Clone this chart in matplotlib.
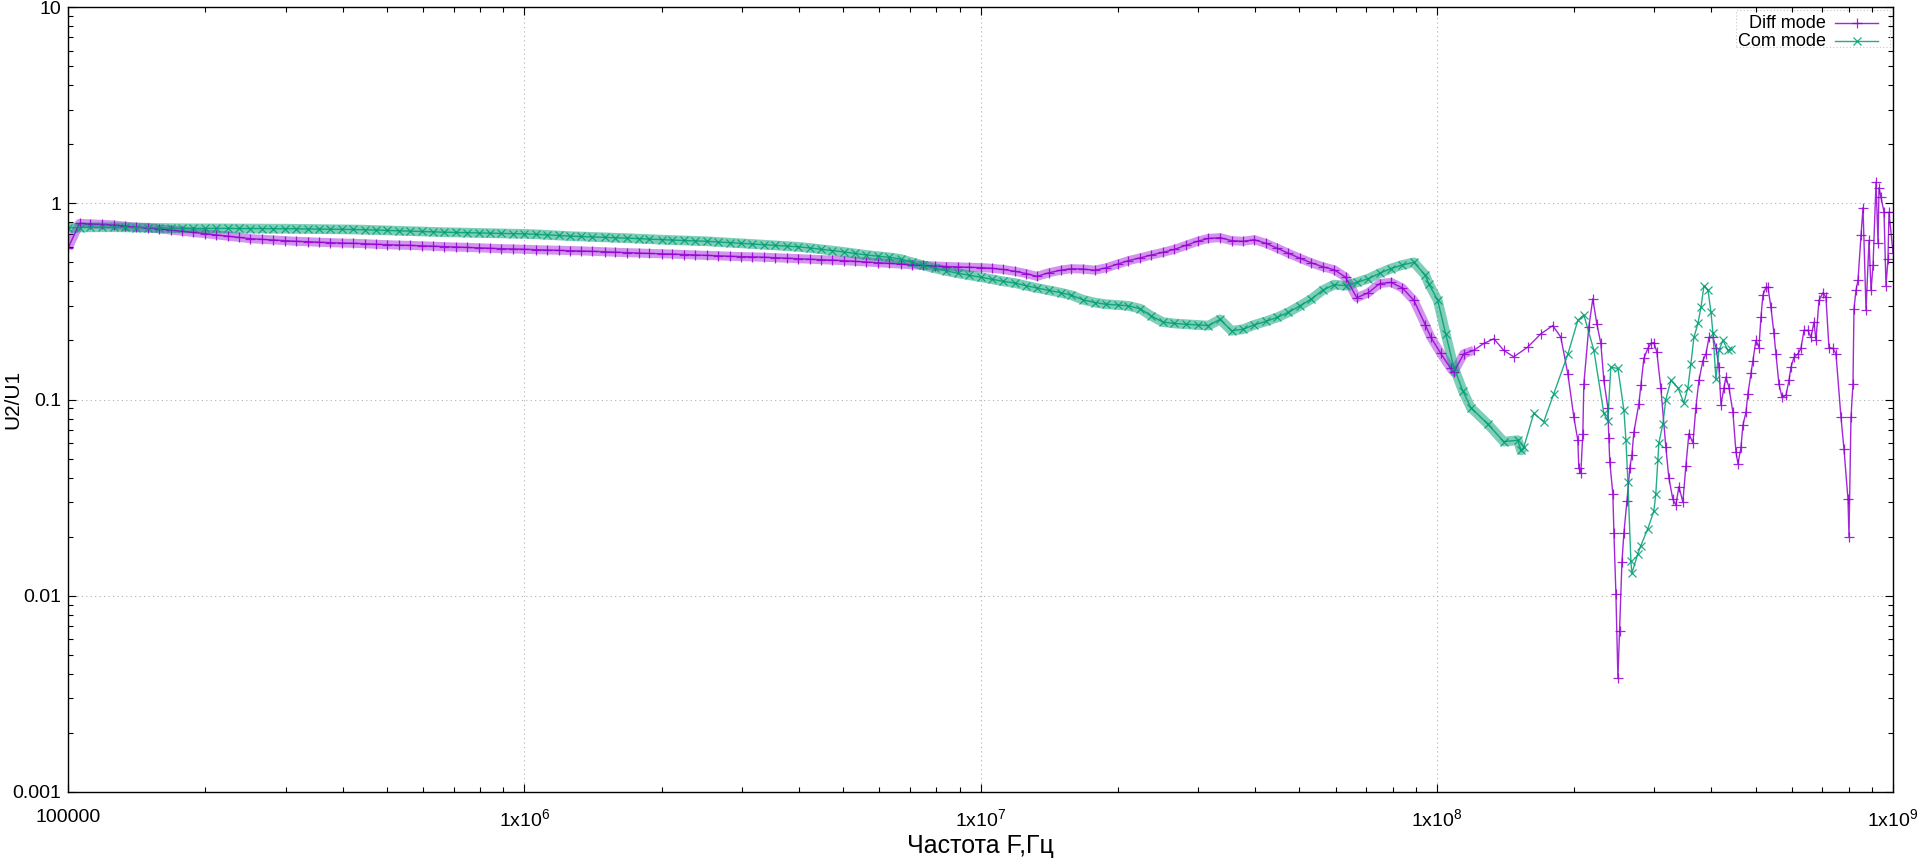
import matplotlib
matplotlib.use("Agg")
import matplotlib.pyplot as plt
from matplotlib.lines import Line2D
from matplotlib.patches import Rectangle
from matplotlib.ticker import LogLocator, FixedLocator, FixedFormatter, NullFormatter

plt.rcParams["font.family"] = ["Liberation Sans", "DejaVu Sans"]

# sweep points below 100 MHz (MHz), shared by both traces
freq_lo = [
    0.100, 0.106, 0.112, 0.119, 0.126, 0.133, 0.141, 0.150, 0.158, 0.168,
    0.178, 0.188, 0.200, 0.211, 0.224, 0.237, 0.251, 0.266, 0.282, 0.299,
    0.316, 0.335, 0.355, 0.376, 0.398, 0.422, 0.447, 0.473, 0.501, 0.531,
    0.562, 0.596, 0.631, 0.668, 0.708, 0.750, 0.794, 0.841, 0.891, 0.944,
    1.00, 1.06, 1.12, 1.19, 1.26, 1.33, 1.41, 1.50, 1.58, 1.68,
    1.78, 1.88, 2.00, 2.11, 2.24, 2.37, 2.51, 2.66, 2.82, 2.99,
    3.16, 3.35, 3.55, 3.76, 3.98, 4.22, 4.47, 4.73, 5.01, 5.31,
    5.62, 5.96, 6.31, 6.68, 7.08, 7.50, 7.94, 8.41, 8.91, 9.44,
    10.0, 10.6, 11.2, 11.9, 12.6, 13.3, 14.1, 15.0, 15.8, 16.8,
    17.8, 18.8, 20.0, 21.1, 22.4, 23.7, 25.1, 26.6, 28.2, 29.9,
    31.6, 33.5, 35.5, 37.6, 39.8, 42.2, 44.7, 47.3, 50.1, 53.1,
    56.2, 59.6, 63.1, 66.8, 70.8, 75.0, 79.4, 84.1, 89.1, 94.4,
]

diff_lo = [
    0.59, 0.79, 0.785, 0.78, 0.775, 0.765, 0.755, 0.75, 0.74, 0.73,
    0.72, 0.71, 0.70, 0.69, 0.68, 0.67, 0.66, 0.655, 0.65, 0.645,
    0.64, 0.637, 0.633, 0.63, 0.627, 0.625, 0.622, 0.618, 0.615, 0.612,
    0.61, 0.607, 0.604, 0.601, 0.598, 0.596, 0.593, 0.59, 0.587, 0.585,
    0.583, 0.58, 0.578, 0.576, 0.574, 0.572, 0.569, 0.566, 0.563, 0.56,
    0.558, 0.555, 0.553, 0.551, 0.548, 0.545, 0.542, 0.54, 0.537, 0.535,
    0.533, 0.531, 0.528, 0.525, 0.522, 0.519, 0.516, 0.513, 0.51, 0.506,
    0.502, 0.498, 0.494, 0.49, 0.486, 0.482, 0.479, 0.476, 0.474, 0.472,
    0.47, 0.466, 0.46, 0.45, 0.438, 0.424, 0.442, 0.456, 0.464, 0.462,
    0.456, 0.468, 0.49, 0.51, 0.527, 0.545, 0.562, 0.582, 0.61, 0.64,
    0.662, 0.668, 0.645, 0.64, 0.652, 0.625, 0.59, 0.556, 0.525, 0.497,
    0.475, 0.458, 0.42, 0.33, 0.35, 0.39, 0.395, 0.37, 0.32, 0.24,
]

com_lo = [
    0.75, 0.752, 0.754, 0.755, 0.755, 0.754, 0.752, 0.75, 0.748, 0.747,
    0.746, 0.745, 0.745, 0.745, 0.744, 0.744, 0.743, 0.743, 0.742, 0.742,
    0.741, 0.74, 0.739, 0.738, 0.737, 0.735, 0.733, 0.73, 0.727, 0.724,
    0.721, 0.718, 0.715, 0.712, 0.71, 0.708, 0.706, 0.704, 0.702, 0.70,
    0.698, 0.695, 0.69, 0.685, 0.68, 0.677, 0.674, 0.671, 0.667, 0.664,
    0.66, 0.656, 0.652, 0.649, 0.646, 0.643, 0.64, 0.635, 0.63, 0.625,
    0.62, 0.615, 0.61, 0.605, 0.60, 0.592, 0.583, 0.574, 0.565, 0.555,
    0.545, 0.537, 0.53, 0.52, 0.50, 0.482, 0.466, 0.452, 0.44, 0.43,
    0.42, 0.41, 0.40, 0.392, 0.38, 0.37, 0.36, 0.35, 0.34, 0.322,
    0.312, 0.306, 0.303, 0.30, 0.29, 0.266, 0.248, 0.244, 0.242, 0.24,
    0.238, 0.256, 0.224, 0.228, 0.24, 0.25, 0.262, 0.278, 0.30, 0.325,
    0.36, 0.385, 0.38, 0.395, 0.413, 0.44, 0.465, 0.485, 0.50, 0.43,
]

# sparser points above ~100 MHz (MHz)
freq_hi_diff = [
    97.0, 102.0, 107.3, 109.0, 114.6, 120.5, 126.8, 133.4, 140.2, 147.5,
    158.3, 169.1, 179.6, 187.0, 193.8, 199.8, 203.8, 204.8, 206.9, 209.0,
    210.1, 215.4, 219.8, 224.3, 228.9, 232.4, 237.1, 238.3, 239.5, 243.2,
    244.5, 247.0, 249.5, 251.6, 254.6, 257.2, 261.1, 265.0, 267.7, 270.4,
    277.3, 280.1, 284.4, 290.2, 294.6, 299.1, 303.6, 309.9, 317.8, 322.6,
    329.2, 334.3, 339.4, 346.3, 351.6, 357.0, 364.3, 369.8, 375.5, 383.2,
    389.1, 395.0, 403.1, 409.2, 415.5, 419.7, 426.1, 430.4, 437.0, 445.8,
    452.7, 457.3, 464.2, 468.9, 476.1, 480.9, 488.3, 493.2, 500.7, 508.3,
    513.5, 518.7, 526.6, 532.0, 540.1, 548.3, 553.9, 562.3, 570.9, 582.6,
    591.5, 597.5, 606.6, 619.0, 628.4, 638.0, 651.0, 661.0, 671.1, 677.8,
    688.2, 702.2, 712.9, 723.8, 738.6, 749.9, 769.1, 780.8, 796.8, 800.8,
    808.9, 817.1, 821.3, 829.6, 838.1, 850.9, 859.6, 872.7, 886.1, 895.1,
    904.2, 917.9, 927.2, 931.9, 941.3, 955.7, 965.2, 975.0, 980.0, 1000.0,
]
diff_hi = [
    0.208, 0.172, 0.144, 0.138, 0.171, 0.178, 0.193, 0.204, 0.178, 0.165,
    0.185, 0.216, 0.238, 0.208, 0.135, 0.081, 0.062, 0.045, 0.042, 0.067,
    0.12, 0.234, 0.326, 0.243, 0.193, 0.125, 0.091, 0.064, 0.048, 0.033,
    0.021, 0.0102, 0.0038, 0.0066, 0.0148, 0.021, 0.0303, 0.045, 0.052, 0.068,
    0.095, 0.118, 0.162, 0.182, 0.193, 0.195, 0.175, 0.114, 0.057, 0.04,
    0.031, 0.029, 0.036, 0.03, 0.046, 0.067, 0.06, 0.091, 0.125, 0.158,
    0.171, 0.207, 0.207, 0.184, 0.146, 0.094, 0.115, 0.13, 0.115, 0.086,
    0.054, 0.047, 0.057, 0.074, 0.086, 0.107, 0.136, 0.158, 0.20, 0.184,
    0.262, 0.34, 0.373, 0.373, 0.295, 0.217, 0.171, 0.12, 0.103, 0.105,
    0.125, 0.146, 0.164, 0.171, 0.182, 0.225, 0.225, 0.207, 0.248, 0.20,
    0.32, 0.35, 0.331, 0.184, 0.182, 0.171, 0.081, 0.056, 0.031, 0.02,
    0.081, 0.12, 0.29, 0.36, 0.405, 0.687, 0.95, 0.285, 0.647, 0.36,
    0.483, 1.28, 0.625, 1.2, 1.07, 0.9, 0.38, 0.52, 0.9, 0.56,
]

freq_hi_com = [
    96.0, 100.5, 104.6, 109.0, 114.0, 118.7, 129.4, 140.2, 150.5, 153.0,
    155.1, 163.2, 171.6, 180.5, 193.8, 203.8, 210.1, 221.0, 232.4, 237.1,
    240.7, 249.5, 257.2, 259.8, 262.4, 266.4, 267.7, 275.9, 280.1, 290.2,
    299.1, 302.1, 305.2, 306.8, 313.0, 317.8, 325.9, 337.7, 348.1, 355.2,
    360.6, 366.1, 373.6, 379.4, 385.2, 393.1, 399.1, 403.1, 409.2, 415.5,
    424.0, 434.8, 441.4,
]
com_hi = [
    0.39, 0.32, 0.216, 0.146, 0.111, 0.091, 0.075, 0.061, 0.062, 0.055,
    0.057, 0.085, 0.077, 0.107, 0.17, 0.253, 0.27, 0.178, 0.085, 0.078,
    0.146, 0.144, 0.088, 0.062, 0.038, 0.015, 0.013, 0.0164, 0.018, 0.022,
    0.027, 0.033, 0.049, 0.06, 0.075, 0.10, 0.125, 0.115, 0.096, 0.115,
    0.152, 0.207, 0.244, 0.295, 0.38, 0.36, 0.278, 0.217, 0.127, 0.178,
    0.2, 0.178, 0.18,
]

x_ticks = [1e5, 1e6, 1e7, 1e8, 1e9]
x_labels = ["100000", r"$\mathregular{1x10^{6}}$", r"$\mathregular{1x10^{7}}$",
            r"$\mathregular{1x10^{8}}$", r"$\mathregular{1x10^{9}}$"]
y_ticks = [0.001, 0.01, 0.1, 1, 10]
y_labels = ["0.001", "0.01", "0.1", "1", "10"]

diff_color = "#9400d3"
com_color = "#009e73"

diff_f = [f * 1e6 for f in freq_lo + freq_hi_diff]
diff_v = diff_lo + diff_hi
com_f = [f * 1e6 for f in freq_lo + freq_hi_com]
com_v = com_lo + com_hi

# where the sweep is dense the markers merge into a band
n_dense_diff = len(freq_lo) + 6
n_dense_com = len(freq_lo) + 11

fig = plt.figure(figsize=(19.2, 8.65), dpi=100)
ax = fig.add_axes([68 / 1920, 1 - 792 / 865, 1825 / 1920, 785 / 865])

ax.plot(diff_f[:n_dense_diff], diff_v[:n_dense_diff], color=diff_color,
        linewidth=6.5, alpha=0.42, solid_capstyle="butt", solid_joinstyle="round")
ax.plot(com_f[:n_dense_com], com_v[:n_dense_com], color=com_color,
        linewidth=7.0, alpha=0.5, solid_capstyle="butt", solid_joinstyle="round")

ax.plot(diff_f, diff_v, color=diff_color, linewidth=1.0, marker="+",
        markersize=6.8, markeredgewidth=0.9, alpha=0.85)
ax.plot(com_f, com_v, color=com_color, linewidth=1.0, marker="x",
        markersize=5.6, markeredgewidth=0.9, alpha=0.85)

ax.set_xscale("log")
ax.set_yscale("log")
ax.set_xlim(1e5, 1e9)
ax.set_ylim(0.001, 10)

ax.xaxis.set_major_locator(FixedLocator(x_ticks))
ax.xaxis.set_major_formatter(FixedFormatter(x_labels))
ax.yaxis.set_major_locator(FixedLocator(y_ticks))
ax.yaxis.set_major_formatter(FixedFormatter(y_labels))
ax.xaxis.set_minor_locator(LogLocator(base=10, subs=range(2, 10), numticks=20))
ax.yaxis.set_minor_locator(LogLocator(base=10, subs=range(2, 10), numticks=20))
ax.xaxis.set_minor_formatter(NullFormatter())
ax.yaxis.set_minor_formatter(NullFormatter())

ax.tick_params(which="both", direction="in", top=True, right=True, width=0.8)
ax.tick_params(which="major", length=6, labelsize=14)
ax.tick_params(which="minor", length=3.5)
ax.tick_params(axis="x", which="major", pad=12)
ax.tick_params(axis="y", which="major", pad=5)

for s in ax.spines.values():
    s.set_linewidth(1.0)
    s.set_color("black")

ax.grid(True, which="major", color="#b0b0b0", linestyle=(0, (1, 3)), linewidth=0.8)

ax.set_xlabel("Частота F,Гц", fontsize=18)
ax.set_ylabel("U2/U1", fontsize=15)
ax.xaxis.set_label_coords(0.5, -0.054)
ax.yaxis.set_label_coords(-0.025, 0.5)

# key in the top right corner, gnuplot style
fig.patches.append(Rectangle((1736 / 1920, 1 - 47 / 865), (1890 - 1736) / 1920, 37 / 865,
                             transform=fig.transFigure, fill=False,
                             edgecolor="#c8c8c8", linewidth=0.8, linestyle=(0, (1, 2))))
rows = [("Diff mode", diff_color, "+", 6.8, 23), ("Com mode", com_color, "x", 5.6, 41)]
for label, color, mk, ms, ypix in rows:
    yf = 1 - ypix / 865
    fig.text(1826 / 1920, yf, label, ha="right", va="center", fontsize=13)
    fig.lines.append(Line2D([1835 / 1920, 1878 / 1920], [yf, yf], transform=fig.transFigure,
                            color=color, linewidth=1.0, alpha=0.85))
    fig.lines.append(Line2D([1856.5 / 1920], [yf], transform=fig.transFigure, color=color,
                            marker=mk, markersize=ms, markeredgewidth=0.9, alpha=0.85))

fig.savefig("out.png", dpi=100)
